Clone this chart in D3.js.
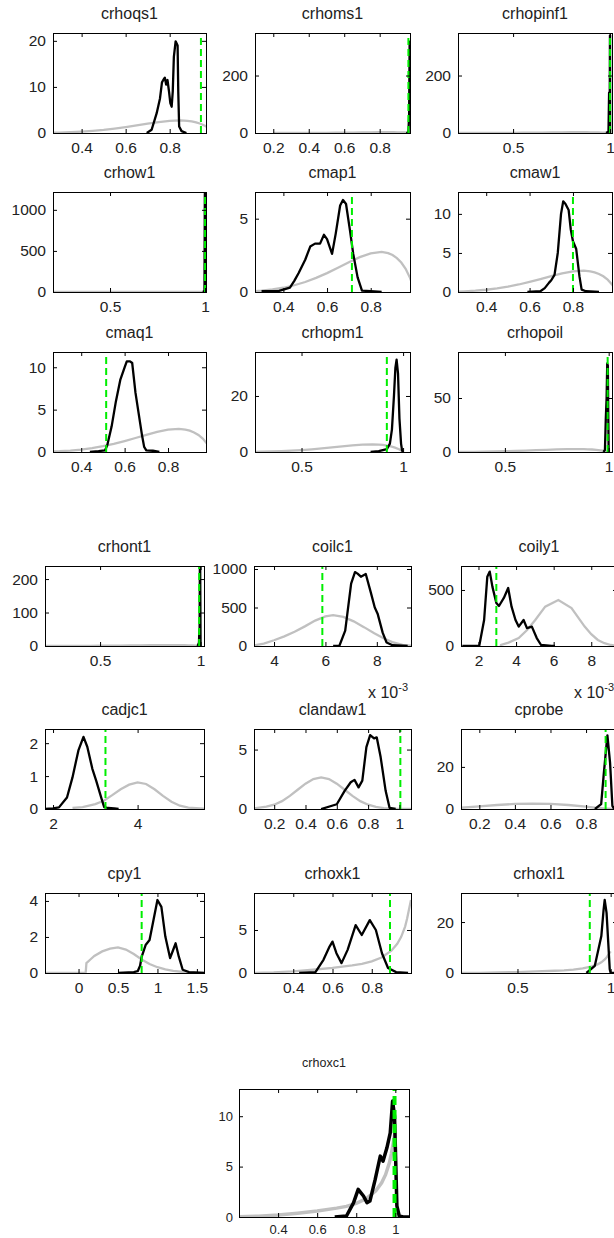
<!DOCTYPE html>
<html>
<head>
<meta charset="utf-8">
<script src="https://cdn.jsdelivr.net/npm/d3@7"></script>
<style>
  body { margin: 0; background: #fff; }
  svg text { font-family: "Liberation Sans", Arial, sans-serif; fill: #222; }
</style>
</head>
<body>
<svg id="chart" width="614" height="1238"></svg>
<script>
// prior (grey) / posterior (black) densities, posterior mode (green)
const titles = ["crhoqs1", "crhoms1", "crhopinf1", "crhow1", "cmap1", "cmaw1", "cmaq1", "crhopm1", "crhopoil",
  "crhont1", "coilc1", "coily1", "cadjc1", "clandaw1", "cprobe", "cpy1", "crhoxk1", "crhoxl1", "crhoxc1"];

const xLims = [[0.27, 0.965], [0.097, 0.971], [0.216, 1.01], [0.2, 1.005], [0.27, 0.98], [0.27, 0.98], [0.27, 0.975],
  [0.271, 1.034], [0.274, 1.016], [0.226, 1.017], [3.22, 9.33], [1.07, 9.37], [1.81, 5.57], [0.071, 1.074],
  [0.097, 0.974], [-0.425, 1.59], [0.2, 1.0], [0.197, 1.034], [0.2, 1.07]];
const yMaxes = [21.7, 348, 348, 1217, 6.82, 12.8, 11.8, 35.7, 92.6, 239, 1039, 714, 2.43, 6.73, 38, 4.44, 9.3, 31.4, 12.7];

const xTicks = [[0.4, 0.6, 0.8], [0.2, 0.4, 0.6, 0.8], [0.5, 1], [0.5, 1], [0.4, 0.6, 0.8], [0.4, 0.6, 0.8],
  [0.4, 0.6, 0.8], [0.5, 1], [0.5, 1], [0.5, 1], [4, 6, 8], [2, 4, 6, 8], [2, 4], [0.2, 0.4, 0.6, 0.8, 1],
  [0.2, 0.4, 0.6, 0.8], [0, 0.5, 1, 1.5], [0.4, 0.6, 0.8], [0.5, 1], [0.4, 0.6, 0.8, 1]];
const yTicks = [[0, 10, 20], [0, 200], [0, 200], [0, 500, 1000], [0, 5], [0, 5, 10], [0, 5, 10], [0, 20], [0, 50],
  [0, 100, 200], [0, 500, 1000], [0, 500], [0, 1, 2], [0, 5], [0, 20], [0, 2, 4], [0, 5], [0, 20], [0, 5, 10]];

const modes = [0.942, 0.962, 1.0, 1.0, 0.714, 0.80, 0.515, 0.92, 0.995, 0.993, 5.88, 2.95, 3.24, 1.006, 0.91, 0.80, 0.893, 0.888, 0.996];

// shared priors
const betaPrior = [[0.2, 0.02], [0.25, 0.04], [0.3, 0.09], [0.35, 0.17], [0.4, 0.29], [0.45, 0.46], [0.5, 0.68],
  [0.55, 0.96], [0.6, 1.29], [0.65, 1.65], [0.7, 2.03], [0.75, 2.38], [0.8, 2.64], [0.85, 2.73], [0.88, 2.65],
  [0.9, 2.52], [0.92, 2.31], [0.94, 2.01], [0.96, 1.58], [0.98, 0.97], [0.99, 0.55], [1.0, 0]];
const steepPrior = [[0.2, 0.02], [0.3, 0.08], [0.4, 0.2], [0.5, 0.38], [0.6, 0.6], [0.7, 0.88], [0.75, 1.05],
  [0.8, 1.35], [0.85, 1.8], [0.9, 2.6], [0.93, 3.4], [0.95, 4.2], [0.97, 5.4], [0.98, 6.3], [0.99, 7.4], [1.0, 8.5]];
const coilc1Prior = [[3.22, 8], [3.6, 30], [4.0, 75], [4.4, 125], [4.8, 185], [5.2, 255], [5.6, 330], [6.0, 385],
  [6.3, 400], [6.7, 378], [7.1, 320], [7.5, 245], [7.9, 165], [8.3, 95], [8.6, 50], [9.0, 15], [9.33, 5]];
const coily1Prior = [[3.18, 0], [3.2, 10], [3.6, 30], [4.14, 71], [4.6, 145], [5.02, 232], [5.55, 351], [6.25, 410],
  [6.95, 339], [7.65, 173], [8.0, 105], [8.35, 54], [8.7, 25], [9.04, 9], [9.37, 3]];
const cadjc1Prior = [[2.46, 0.03], [2.7, 0.06], [3.0, 0.15], [3.2, 0.25], [3.4, 0.42], [3.6, 0.6], [3.8, 0.74],
  [4.0, 0.81], [4.2, 0.76], [4.4, 0.6], [4.6, 0.4], [4.8, 0.22], [5.0, 0.1], [5.2, 0.04], [5.57, 0.01]];
const clandaw1Prior = [[0.071, 0.05], [0.15, 0.2], [0.2, 0.36], [0.25, 0.66], [0.3, 1.1], [0.35, 1.62], [0.4, 2.13],
  [0.45, 2.52], [0.5, 2.66], [0.55, 2.52], [0.6, 2.13], [0.65, 1.62], [0.7, 1.1], [0.75, 0.66], [0.8, 0.36],
  [0.85, 0.17], [0.9, 0.07], [0.95, 0.03], [1.0, 0.01], [1.074, 0]];
const cprobePrior = [[0.097, 0.6], [0.2, 1.2], [0.3, 1.9], [0.4, 2.4], [0.5, 2.6], [0.6, 2.4], [0.7, 1.9], [0.8, 1.1],
  [0.85, 0.6], [0.9, 0.25], [0.95, 0.05], [0.974, 0.01]];
const cpy1Prior = [[-0.425, 0], [0.09, 0], [0.1, 0.55], [0.15, 0.75], [0.2, 0.95], [0.3, 1.2], [0.4, 1.35], [0.5, 1.42],
  [0.6, 1.3], [0.7, 1.05], [0.8, 0.75], [0.9, 0.5], [1.0, 0.32], [1.1, 0.2], [1.2, 0.12], [1.3, 0.07], [1.4, 0.04], [1.59, 0.01]];

// posteriors
const crhoqs1Post = [[0.696, 0], [0.718, 0.7], [0.741, 4.3], [0.756, 7.5], [0.765, 11], [0.771, 11.5], [0.778, 12],
  [0.784, 10.5], [0.79, 11.5], [0.797, 9], [0.803, 6.5], [0.809, 5.7], [0.814, 9], [0.819, 16.5], [0.827, 19.9],
  [0.836, 19], [0.839, 9], [0.843, 1.4], [0.854, 0.4], [0.876, 0]];
const crhoms1Post = [[0.95, 0], [0.962, 2], [0.966, 60], [0.969, 318], [0.971, 318]];
const crhopinf1Post = [[0.98, 0], [0.992, 5], [0.995, 140], [0.9985, 140], [0.9995, 340], [1.0, 340], [1.0005, 0]];
const crhow1Post = [[0.99, 0], [0.997, 20], [0.999, 1200], [1.0, 1200], [1.0005, 0]];
const cmap1Post = [[0.30, 0.05], [0.38, 0.08], [0.43, 0.3], [0.45, 0.76], [0.47, 1.3], [0.5, 2.2], [0.523, 3.1],
  [0.545, 3.3], [0.568, 3.3], [0.586, 3.9], [0.6, 3.6], [0.614, 3.0], [0.623, 2.6], [0.64, 4.0], [0.66, 5.9],
  [0.673, 6.28], [0.687, 6.0], [0.705, 4.2], [0.72, 2.6], [0.74, 1.0], [0.76, 0.1], [0.8, 0.05], [0.85, 0]];
const cmaw1Post = [[0.59, 0], [0.65, 0.1], [0.67, 0.5], [0.69, 1.2], [0.70, 1.5], [0.715, 2.2], [0.73, 5], [0.745, 10],
  [0.755, 11.6], [0.765, 11.3], [0.78, 10.5], [0.79, 8], [0.80, 6.5], [0.815, 5.5], [0.83, 2.0], [0.84, 0.3],
  [0.86, 0.1], [0.9, 0.05], [0.92, 0]];
const cmaq1Post = [[0.44, 0], [0.48, 0.1], [0.51, 0.2], [0.52, 0.8], [0.54, 3], [0.56, 6], [0.58, 8.5], [0.60, 10.0],
  [0.61, 10.7], [0.625, 10.7], [0.635, 10.5], [0.65, 7], [0.665, 4.5], [0.68, 2.0], [0.69, 0.6], [0.70, 0.2],
  [0.73, 0.15], [0.76, 0]];
const crhopm1Post = [[0.84, 0], [0.88, 0.3], [0.92, 1], [0.935, 3], [0.945, 8], [0.955, 20], [0.962, 30], [0.968, 33],
  [0.975, 28], [0.982, 12], [0.99, 3], [0.995, 0.5], [1.0, 0]];
const crhopoilPost = [[0.975, 0], [0.982, 2], [0.986, 30], [0.99, 50], [0.993, 82], [0.996, 80], [0.998, 35], [1.0, 0]];
const crhont1Post = [[0.985, 0], [0.992, 10], [0.994, 50], [0.995, 20], [0.9965, 235], [0.998, 235], [1.0, 0]];
const coilc1Post = [[6.3, 0], [6.54, 0], [6.77, 200], [7.0, 810], [7.15, 960], [7.25, 940], [7.38, 900], [7.57, 935],
  [7.77, 690], [7.92, 500], [8.03, 420], [8.23, 170], [8.38, 45], [8.61, 10], [9.2, 0]];
const coily1Post = [[1.14, 0], [2.04, 0], [2.3, 232], [2.47, 619], [2.6, 664], [2.74, 530], [2.95, 383], [3.09, 357],
  [3.35, 429], [3.58, 518], [3.76, 351], [3.97, 232], [4.14, 173], [4.4, 232], [4.58, 160], [4.84, 173], [5.1, 71],
  [5.33, 9], [5.9, 2], [6.07, 0]];
const cadjc1Post = [[1.81, 0], [2.0, 0.02], [2.14, 0.05], [2.33, 0.35], [2.46, 0.96], [2.6, 1.78], [2.72, 2.19],
  [2.81, 1.89], [2.93, 1.22], [3.02, 0.86], [3.15, 0.3], [3.21, 0.06], [3.3, 0.03], [3.45, 0.02], [3.55, 0]];
const clandaw1Post = [[0.5, 0], [0.6, 0.4], [0.65, 1.53], [0.689, 2.25], [0.713, 2.45], [0.739, 1.82], [0.763, 2.39],
  [0.789, 5.2], [0.813, 6.22], [0.838, 5.94], [0.855, 6.03], [0.88, 4.37], [0.912, 1.53], [0.937, 0.1], [0.976, 0]];
const cprobePost = [[0.85, 0], [0.885, 2.3], [0.9, 17], [0.92, 35], [0.935, 22], [0.948, 1.5], [0.957, 0.2], [0.974, 0]];
const cpy1Post = [[0.5, 0], [0.7, 0.05], [0.75, 0.1], [0.78, 0.4], [0.8, 0.9], [0.85, 1.55], [0.9, 1.83], [0.95, 2.94],
  [1.0, 4.05], [1.05, 3.67], [1.1, 2.02], [1.16, 0.83], [1.2, 1.29], [1.23, 1.65], [1.27, 0.92], [1.32, 0.18],
  [1.4, 0.05], [1.59, 0]];
const crhoxk1Post = [[0.43, 0], [0.513, 0.1], [0.554, 1.53], [0.585, 3.07], [0.6, 3.65], [0.62, 2.3], [0.646, 1.15],
  [0.677, 2.69], [0.718, 5.57], [0.749, 4.42], [0.79, 6.15], [0.821, 5.0], [0.852, 2.3], [0.883, 0.58], [0.924, 0.1],
  [0.985, 0]];
const crhoxl1Post = [[0.87, 0], [0.915, 2.8], [0.95, 14.5], [0.962, 24.8], [0.968, 28.7], [0.978, 23.6], [0.99, 8.1],
  [0.995, 1.5], [1.0, 0], [1.034, 0]];
const crhoxc1Post = [[0.69, 0], [0.75, 0.1], [0.786, 1.4], [0.81, 2.74], [0.837, 2.08], [0.855, 1.42], [0.87, 1.58],
  [0.897, 3.73], [0.923, 6.04], [0.937, 5.54], [0.957, 6.86], [0.974, 8.35], [0.986, 11.5], [0.996, 10], [1.008, 1.1],
  [1.02, 0.1], [1.04, 0], [1.07, 0]];

const priors = [betaPrior, betaPrior, betaPrior, betaPrior, betaPrior, betaPrior, betaPrior, betaPrior, betaPrior,
  betaPrior, coilc1Prior, coily1Prior, cadjc1Prior, clandaw1Prior, cprobePrior, cpy1Prior, steepPrior, steepPrior, steepPrior];
const posts = [crhoqs1Post, crhoms1Post, crhopinf1Post, crhow1Post, cmap1Post, cmaw1Post, cmaq1Post, crhopm1Post,
  crhopoilPost, crhont1Post, coilc1Post, coily1Post, cadjc1Post, clandaw1Post, cprobePost, cpy1Post, crhoxk1Post,
  crhoxl1Post, crhoxc1Post];
const scaled = [10, 11]; // axes with "x 10^-3" under them

// layout: [left, right, top, bottom] of each axes box
const boxes = [];
[33, 192, 352].forEach(t => [[53, 206], [255, 410], [458, 612]].forEach(c => boxes.push([c[0], c[1], t, t + 100])));
[566, 729, 893].forEach(t => [[45, 204], [254, 411], [461, 617]].forEach(c => boxes.push([c[0], c[1], t, t + 80])));
boxes.push([239, 409, 1089, 1217]);

const svg = d3.select("#chart");
const fmt = d3.format("~g");

titles.forEach((name, i) => {
  const b = boxes[i];
  const small = i === 18;
  const fs = small ? 13 : 15.5;
  const lw = small ? 3.5 : 2.3;
  const x = d3.scaleLinear().domain(xLims[i]).range([b[0], b[1]]);
  const y = d3.scaleLinear().domain([0, yMaxes[i]]).range([b[3], b[2]]);
  const g = svg.append("g");

  g.append("clipPath").attr("id", "clip" + i)
    .append("rect").attr("x", b[0]).attr("y", b[2]).attr("width", b[1] - b[0]).attr("height", b[3] - b[2]);
  const plot = g.append("g").attr("clip-path", `url(#clip${i})`);
  const line = d3.line().x(d => x(d[0])).y(d => y(d[1]));

  plot.append("path").datum(priors[i]).attr("d", line)
    .attr("fill", "none").attr("stroke", "#c0c0c0").attr("stroke-width", lw);
  plot.append("path").datum(posts[i]).attr("d", line)
    .attr("fill", "none").attr("stroke", "#000").attr("stroke-width", lw).attr("stroke-linejoin", "round");
  plot.append("line")
    .attr("x1", x(modes[i])).attr("x2", x(modes[i])).attr("y1", y(0)).attr("y2", y(yMaxes[i]))
    .attr("stroke", "#00ee00").attr("stroke-width", small ? 4 : 2).attr("stroke-dasharray", small ? "9,5" : "7,4");

  const styleAxis = a => {
    a.select(".domain").remove();
    a.selectAll(".tick line").attr("stroke", "#000");
    a.selectAll("text").attr("font-size", fs).attr("font-family", null).attr("fill", "#222");
  };
  g.append("g").attr("transform", `translate(0,${b[3]})`)
    .call(d3.axisBottom(x).tickValues(xTicks[i]).tickSize(-4).tickPadding(small ? 8 : 9).tickFormat(fmt)).call(styleAxis);
  g.append("g").attr("transform", `translate(0,${b[2]})`)
    .call(d3.axisTop(x).tickValues(xTicks[i]).tickSize(-4).tickFormat("")).call(styleAxis);
  g.append("g").attr("transform", `translate(${b[0]},0)`)
    .call(d3.axisLeft(y).tickValues(yTicks[i]).tickSize(-4).tickPadding(small ? 6 : 7).tickFormat(fmt)).call(styleAxis);
  g.append("g").attr("transform", `translate(${b[1]},0)`)
    .call(d3.axisRight(y).tickValues(yTicks[i]).tickSize(-4).tickFormat("")).call(styleAxis);

  g.append("rect").attr("x", b[0] + 0.5).attr("y", b[2] + 0.5)
    .attr("width", b[1] - b[0]).attr("height", b[3] - b[2])
    .attr("fill", "none").attr("stroke", "#000").attr("stroke-width", 1);

  g.append("text").attr("x", (b[0] + b[1]) / 2).attr("y", b[2] - (small ? 22 : 14))
    .attr("text-anchor", "middle").attr("font-size", small ? 12.5 : 16).text(name);

  if (scaled.includes(i)) {
    const t = g.append("text").attr("x", b[1] - 43).attr("y", b[3] + 52).attr("font-size", 16);
    t.append("tspan").text("x 10");
    t.append("tspan").attr("font-size", 11).attr("dy", -7).text("-3");
  }
});
</script>
</body>
</html>
